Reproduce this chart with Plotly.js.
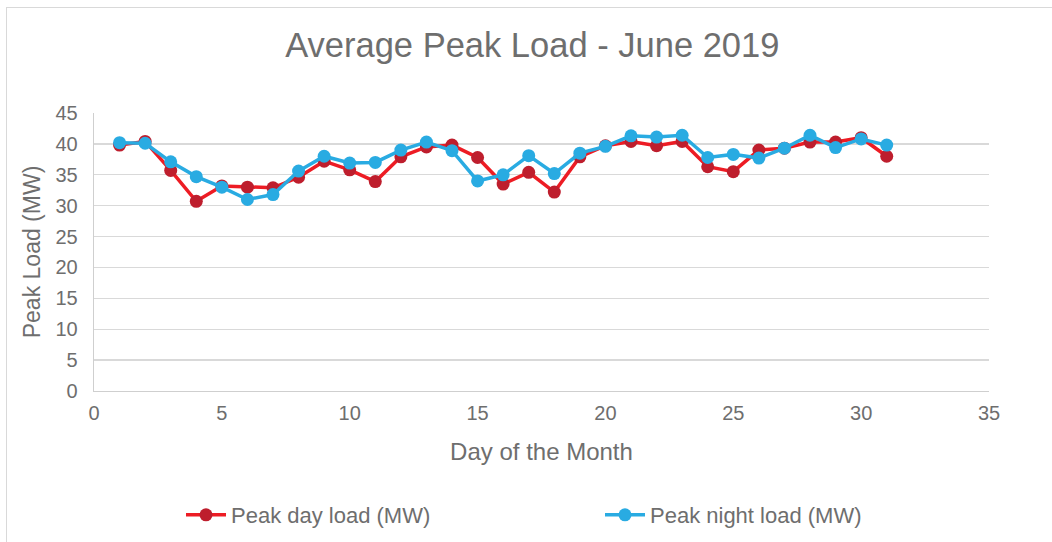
<!DOCTYPE html>
<html>
<head>
<meta charset="utf-8">
<script src="https://cdn.plot.ly/plotly-3.0.1.min.js"></script>
<style>
  html, body { margin: 0; padding: 0; background: #fff; overflow: hidden; }
  #frame { position: absolute; left: 6px; top: 7px; width: 1100px; height: 600px; border: 1px solid #d9d9d9; box-sizing: border-box; pointer-events: none; }
  #chart { position: absolute; left: 0; top: 0; width: 1052px; height: 542px; }
</style>
</head>
<body>
<div id="chart"></div>
<div id="frame"></div>
<script>
const days = [1,2,3,4,5,6,7,8,9,10,11,12,13,14,15,16,17,18,19,20,21,22,23,24,25,26,27,28,29,30,31];
const peakDay = [39.8,40.4,35.7,30.7,33.2,33.0,32.9,34.6,37.2,35.8,33.9,37.9,39.5,39.8,37.8,33.5,35.4,32.2,37.9,39.7,40.4,39.7,40.4,36.3,35.5,39.0,39.3,40.3,40.3,41.0,38.0];
const peakNight = [40.2,40.1,37.1,34.7,33.0,31.0,31.8,35.6,38.0,36.9,37.0,39.0,40.3,38.9,34.0,35.0,38.1,35.2,38.5,39.6,41.3,41.1,41.4,37.8,38.3,37.7,39.3,41.4,39.4,40.8,39.8];
const seriesNames = ["Peak day load (MW)", "Peak night load (MW)"];
const titleText = "Average Peak Load - June 2019";
const xTitle = "Day of the Month";
const yTitle = "Peak Load (MW)";

const textColor = "#6e6e6e";
const fontFam = "'Liberation Sans', Arial, sans-serif";

const traces = [
  {
    x: days, y: peakDay, name: seriesNames[0], type: "scatter", mode: "lines+markers",
    line: {color: "#ed1c24", width: 3.5},
    marker: {color: "#be1e2d", size: 13}
  },
  {
    x: days, y: peakNight, name: seriesNames[1], type: "scatter", mode: "lines+markers",
    line: {color: "#29abe2", width: 3.5},
    marker: {color: "#29abe2", size: 13}
  }
];

const layout = {
  width: 1052, height: 542,
  margin: {l: 94, r: 63, t: 113, b: 151, pad: 0},
  paper_bgcolor: "rgba(0,0,0,0)", plot_bgcolor: "#fff",
  font: {family: fontFam, color: textColor},
  title: {text: titleText, font: {size: 34.5, color: textColor, family: fontFam}, xref: "container", x: 0.506, xanchor: "center", yref: "container", y: 1 - 45/542, yanchor: "middle"},
  xaxis: {
    range: [0, 35], dtick: 5, tick0: 0, showgrid: false, zeroline: false,
    showline: true, linecolor: "#cfcfcf", linewidth: 1.3, ticks: "",
    tickfont: {size: 20, color: textColor}, ticklabelstandoff: 4,
    title: {text: xTitle, font: {size: 24, color: textColor}, standoff: 20}
  },
  yaxis: {
    range: [0, 45], dtick: 5, tick0: 0, showgrid: true, gridcolor: "#d9d9d9", gridwidth: 1.3,
    zeroline: false, showline: true, linecolor: "#cfcfcf", linewidth: 1.3, ticks: "",
    tickfont: {size: 20, color: textColor}, ticklabelstandoff: 11,
    title: {text: yTitle, font: {size: 23, color: textColor}, standoff: 8}
  },
  showlegend: true,
  legend: {orientation: "h", xref: "container", x: 181/1052, xanchor: "left", yref: "container", y: 1 - 515/542, yanchor: "middle",
    font: {size: 22, color: textColor}, entrywidth: 364, entrywidthmode: "pixels", itemwidth: 40, bgcolor: "rgba(0,0,0,0)"}
};

Plotly.newPlot("chart", traces, layout, {displayModeBar: false, staticPlot: true});
</script>
</body>
</html>
